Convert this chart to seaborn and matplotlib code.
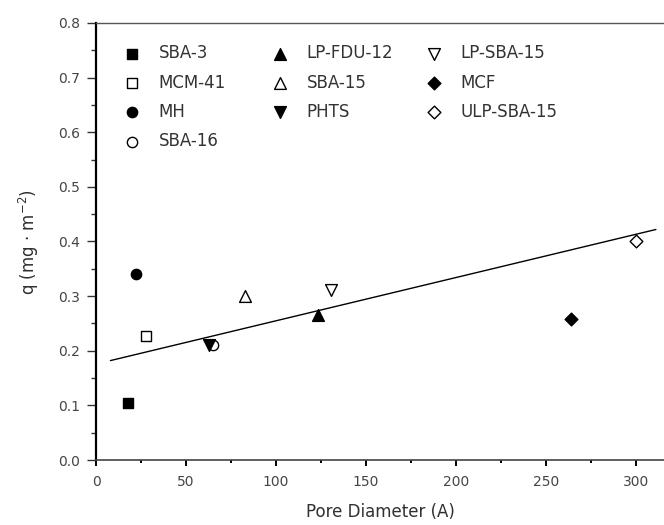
import matplotlib
matplotlib.use("Agg")
import matplotlib.pyplot as plt
from matplotlib.ticker import MultipleLocator, FormatStrFormatter
import seaborn as sns
import pandas as pd

samples = ["SBA-3", "MCM-41", "MH", "SBA-16", "LP-FDU-12", "SBA-15",
           "PHTS", "LP-SBA-15", "MCF", "ULP-SBA-15"]
pore_diameter = [18, 28, 22, 65, 123.5, 83, 63, 130.5, 264, 300]
q_values = [0.104, 0.227, 0.340, 0.210, 0.266, 0.300, 0.211, 0.311, 0.258, 0.400]
markers = ["s", "s", "o", "o", "^", "^", "v", "v", "D", "D"]
filled = [True, False, True, False, True, False, True, False, True, False]
sizes = [42, 42, 55, 55, 72, 72, 72, 72, 42, 42]

fit_x = [8, 311]
fit_y = [0.182, 0.422]

legend_columns = [[0, 1, 2, 3], [4, 5, 6], [7, 8, 9]]
legend_x = [0.0488, 0.3092, 0.580]

sns.set_theme(style="white")
plt.rcParams["font.family"] = ["DejaVu Sans"]

fig = plt.figure(figsize=(6.64, 5.25), dpi=100)
ax = fig.add_axes([0.1446, 0.1238, 0.8554, 0.8324])

for name, x, y, m, f, s in zip(samples, pore_diameter, q_values, markers, filled, sizes):
    df = pd.DataFrame({"x": [x], "y": [y]})
    sns.scatterplot(data=df, x="x", y="y", ax=ax, marker=m, s=s,
                    color="black", facecolor="black" if f else "white",
                    edgecolor="black", linewidth=1.0, label=name, zorder=3)

fit = pd.DataFrame({"x": fit_x, "y": fit_y})
sns.lineplot(data=fit, x="x", y="y", ax=ax, color="black", linewidth=1.0, zorder=2)

ax.set_xlim(0, 315.5)
ax.set_ylim(0, 0.8)
ax.xaxis.set_major_locator(MultipleLocator(50))
ax.xaxis.set_minor_locator(MultipleLocator(25))
ax.yaxis.set_major_locator(MultipleLocator(0.1))
ax.yaxis.set_minor_locator(MultipleLocator(0.05))
ax.yaxis.set_major_formatter(FormatStrFormatter("%.1f"))

ax.tick_params(axis="x", which="major", direction="out", length=4.5, width=1.4,
               color="black", labelsize=10, labelcolor="#454545", pad=6.5, bottom=True)
ax.tick_params(axis="x", which="minor", direction="out", length=2.3, width=1.4,
               color="black", bottom=True)
ax.tick_params(axis="y", which="major", direction="out", length=6.5, width=1.0,
               color="#333333", labelsize=10, labelcolor="#454545", pad=5, left=True)
ax.tick_params(axis="y", which="minor", direction="out", length=3.6, width=1.0,
               color="#333333", left=True)

ax.spines["left"].set_color("black")
ax.spines["left"].set_linewidth(1.6)
ax.spines["bottom"].set_color("#444444")
ax.spines["bottom"].set_linewidth(1.2)
ax.spines["top"].set_color("#555555")
ax.spines["top"].set_linewidth(1.0)
ax.spines["right"].set_visible(False)

ax.set_xlabel("Pore Diameter (A)", fontsize=12, color="#303030", labelpad=10)
ax.set_ylabel("q (mg · m$^{-2}$)", fontsize=12, color="#303030", labelpad=12)

handles, labels = ax.get_legend_handles_labels()
if ax.legend_:
    ax.legend_.remove()
legs = []
for idxs, lx in zip(legend_columns, legend_x):
    leg = ax.legend([handles[i] for i in idxs], [labels[i] for i in idxs],
                    loc="upper left", bbox_to_anchor=(lx, 0.951), ncol=1,
                    frameon=False, fontsize=12, handlelength=1.0,
                    handletextpad=1.1, labelspacing=0.67, borderpad=0,
                    borderaxespad=0)
    for t in leg.get_texts():
        t.set_color("#333333")
    legs.append(leg)
for leg in legs[:-1]:
    ax.add_artist(leg)

fig.savefig("out.png", dpi=100)
